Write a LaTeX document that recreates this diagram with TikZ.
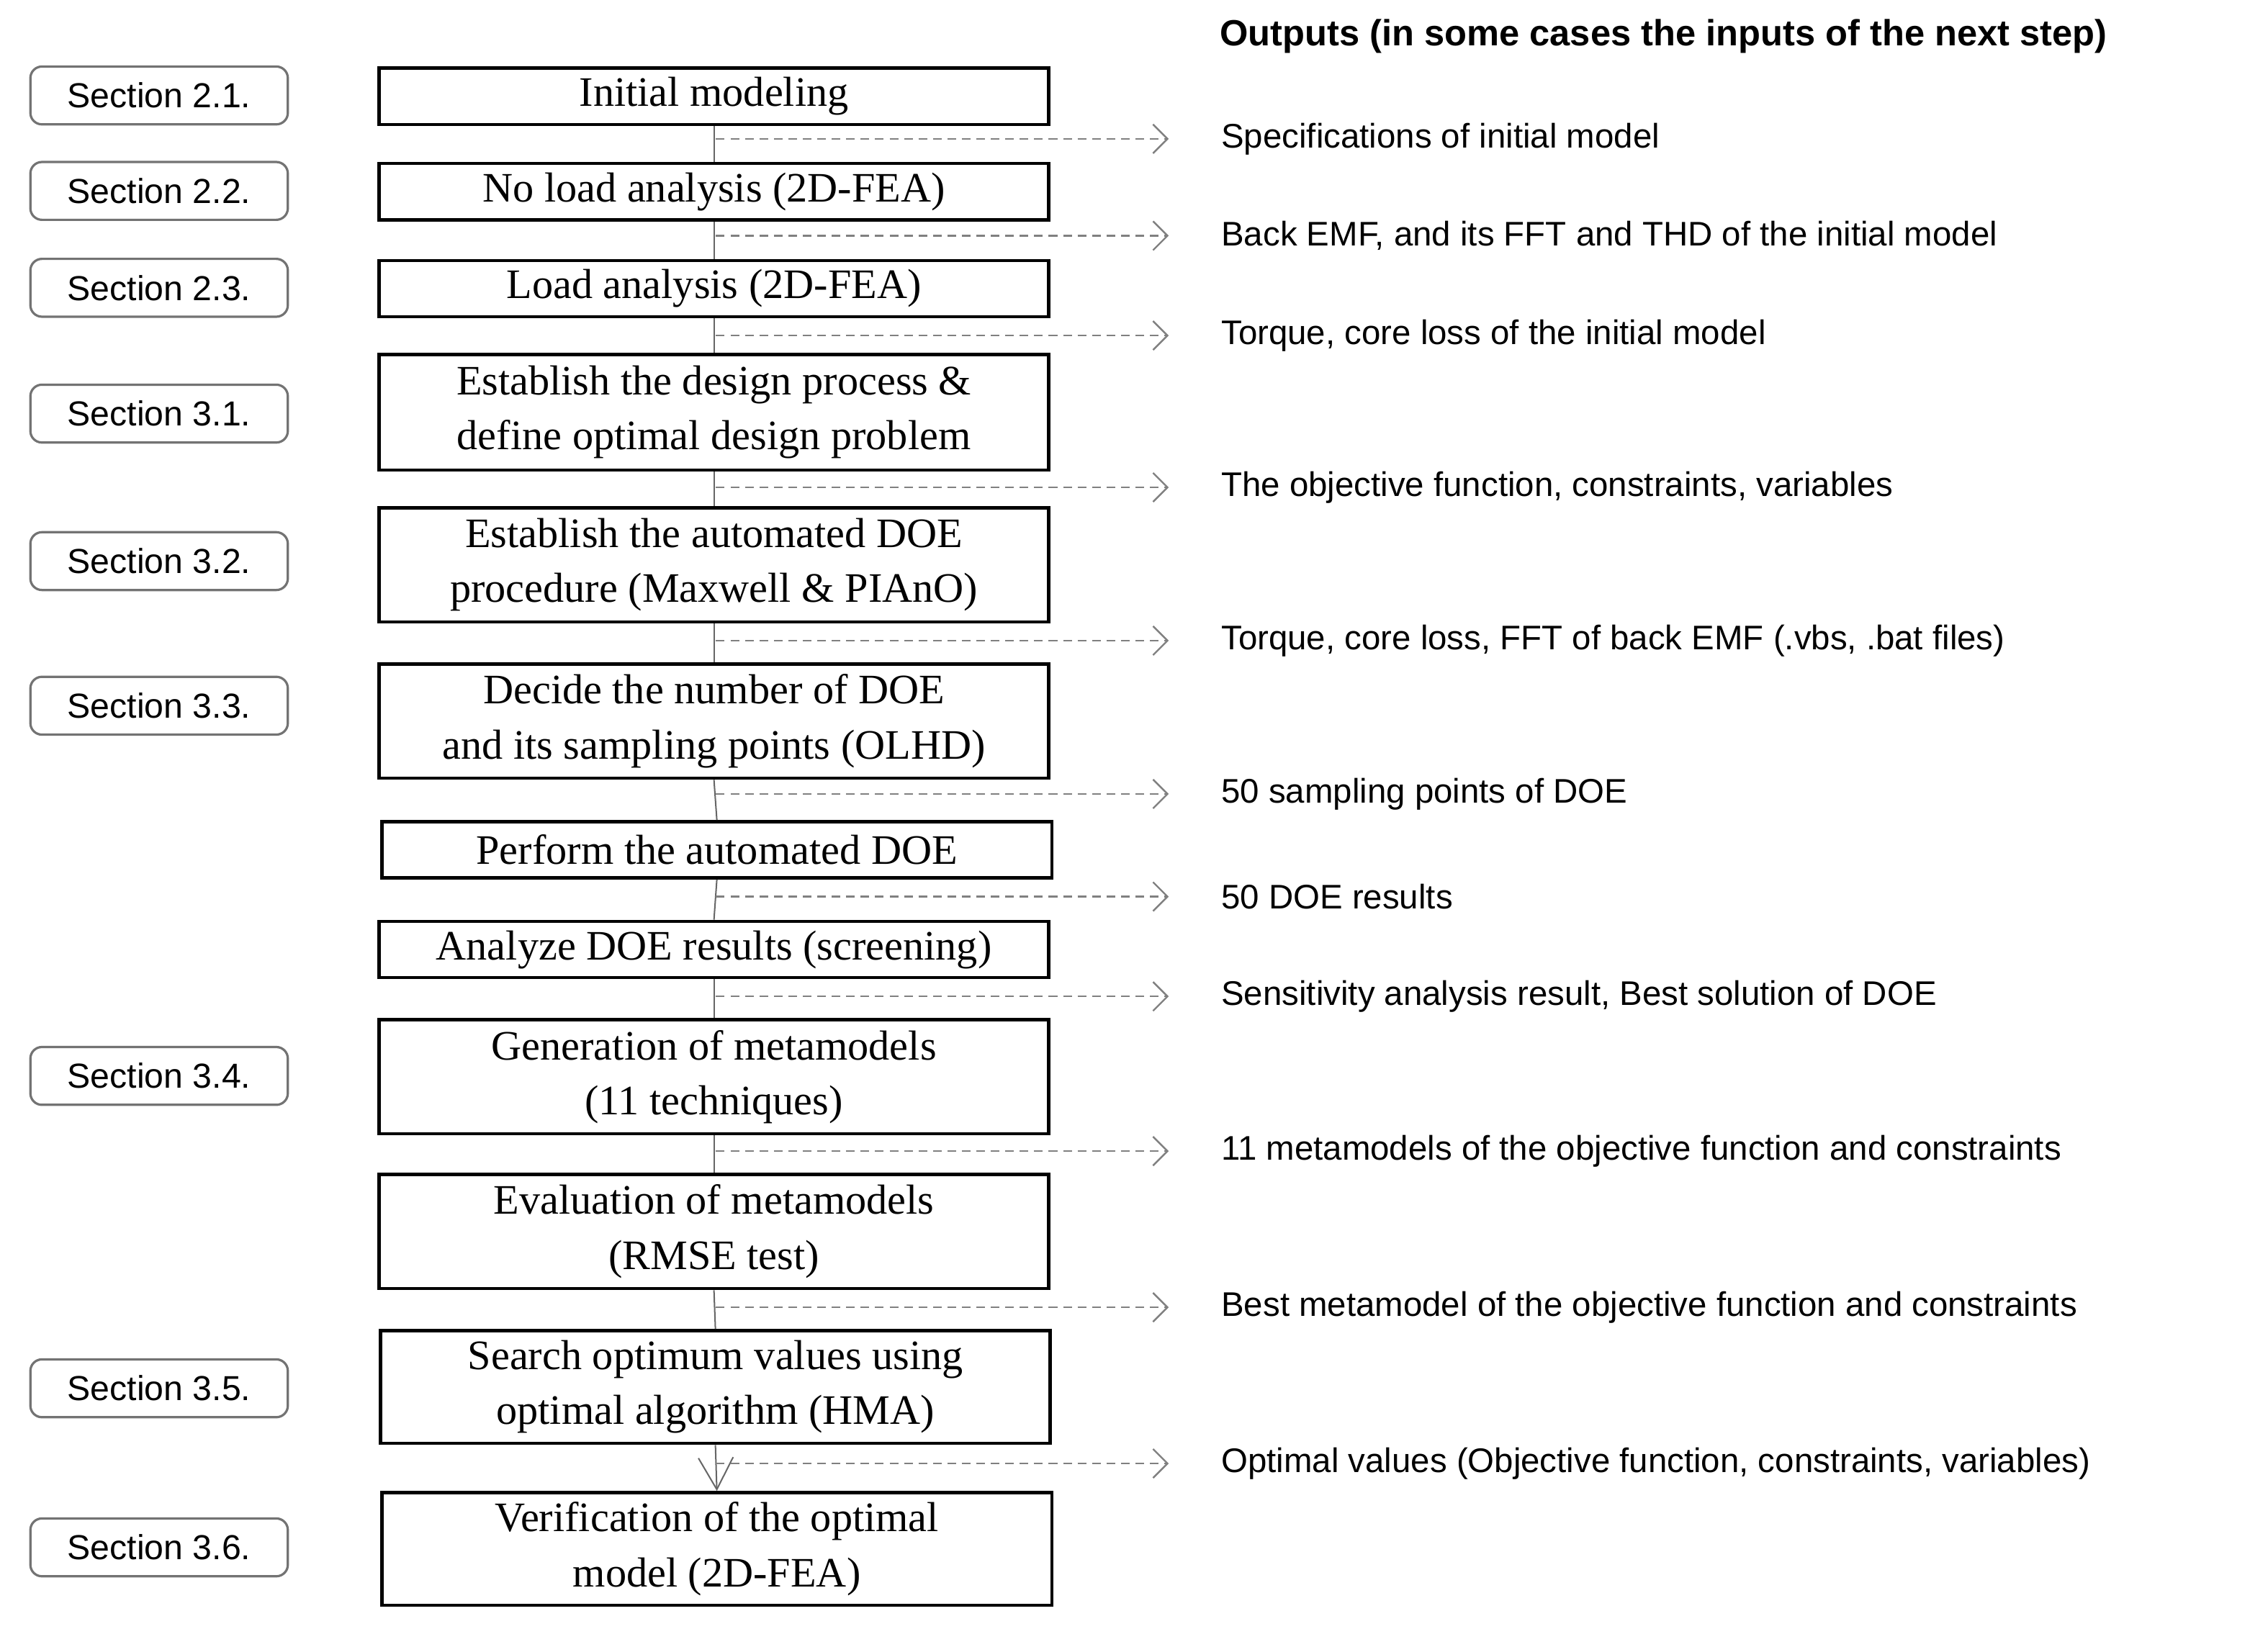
\documentclass[tikz,border=0pt]{standalone}
\usepackage{fontspec}
\setmainfont{Liberation Serif}
\newfontfamily\sansf{Liberation Sans}
\usetikzlibrary{arrows.meta}
\begin{document}
\begin{tikzpicture}[x=0.5pt,y=-0.5pt,
  main/.style={draw=black,line width=1.1pt,minimum width=231.5pt,inner sep=0pt,align=center,font=\fontsize{14.5}{19}\selectfont,anchor=north west},
  sec/.style={draw=black!55,line width=0.8pt,rounded corners=4pt,minimum width=89pt,minimum height=20pt,inner sep=0pt,font=\sansf\fontsize{12}{14}\selectfont},
  outtxt/.style={anchor=west,inner sep=0pt,font=\sansf\fontsize{11.8}{14}\selectfont},
  flow/.style={draw=black!60,line width=0.5pt},
  dashconn/.style={draw=black!50,dash pattern=on 3pt off 2pt,line width=0.6pt,-{Straight Barb[length=5pt,width=10pt,line width=0.6pt]}}]
\useasboundingbox (0,0) rectangle (1568,1126);
% main boxes
\node[main,minimum height=19.5pt] (b1) at (261,46) {Initial modeling};
\node[main,minimum height=19.5pt] (b2) at (261,112) {No load analysis (2D-FEA)};
\node[main,minimum height=19.5pt] (b3) at (261,179) {Load analysis (2D-FEA)};
\node[main,minimum height=40pt] (b4) at (261,244) {Establish the design process \&\\define optimal design problem};
\node[main,minimum height=39.5pt] (b5) at (261,350) {Establish the automated DOE\\procedure (Maxwell \& PIAnO)};
\node[main,minimum height=39.5pt] (b6) at (261,458) {Decide the number of DOE\\and its sampling points (OLHD)};
\node[main,minimum height=19.5pt] (b7) at (263,567) {Perform the automated DOE};
\node[main,minimum height=19.5pt] (b8) at (261,636) {Analyze DOE results (screening)};
\node[main,minimum height=39.5pt] (b9) at (261,704) {Generation of metamodels\\(11 techniques)};
\node[main,minimum height=39.5pt] (b10) at (261,811) {Evaluation of metamodels\\(RMSE test)};
\node[main,minimum height=39pt] (b11) at (262,919) {Search optimum values using\\optimal algorithm (HMA)};
\node[main,minimum height=39pt] (b12) at (263,1031) {Verification of the optimal\\model (2D-FEA)};
% vertical connectors
\foreach \a/\b in {b1/b2,b2/b3,b3/b4,b4/b5,b5/b6,b6/b7,b7/b8,b8/b9,b9/b10,b10/b11}
  \draw[flow] (\a.south) -- (\b.north);
\draw[flow,-{Straight Barb[length=11pt,width=12pt,line width=0.5pt]}] (b11.south) -- (b12.north);
% sections
\node[sec] (s1) at (110,66) {Section 2.1.};
\node[sec] (s2) at (110,132) {Section 2.2.};
\node[sec] (s3) at (110,199) {Section 2.3.};
\node[sec] (s4) at (110,286) {Section 3.1.};
\node[sec] (s5) at (110,388) {Section 3.2.};
\node[sec] (s6) at (110,488) {Section 3.3.};
\node[sec] (s7) at (110,744) {Section 3.4.};
\node[sec] (s8) at (110,960) {Section 3.5.};
\node[sec] (s9) at (110,1070) {Section 3.6.};
% heading
\node[anchor=west,inner sep=0pt,font=\sansf\bfseries\fontsize{12.6}{15}\selectfont] (hd) at (843,25) {Outputs (in some cases the inputs of the next step)};
% outputs
\foreach \n/\y/\t in {1/96/Specifications of initial model,
  2/163/{Back EMF, and its FFT and THD of the initial model},
  3/232/{Torque, core loss of the initial model},
  4/337/{The objective function, constraints, variables},
  5/443/{Torque, core loss, FFT of back EMF (.vbs, .bat files)},
  6/549/50 sampling points of DOE,
  7/620/50 DOE results,
  8/689/{Sensitivity analysis result, Best solution of DOE},
  9/796/11 metamodels of the objective function and constraints,
  10/904/Best metamodel of the objective function and constraints,
  11/1012/{Optimal values (Objective function, constraints, variables)}}{
  \coordinate (c\n) at (495,\y);
  \coordinate (e\n) at (808,\y);
  \node[outtxt] (o\n) at (844,\y) {\t};
  \draw[dashconn] (c\n) -- (e\n);
}
\end{tikzpicture}
\end{document}
